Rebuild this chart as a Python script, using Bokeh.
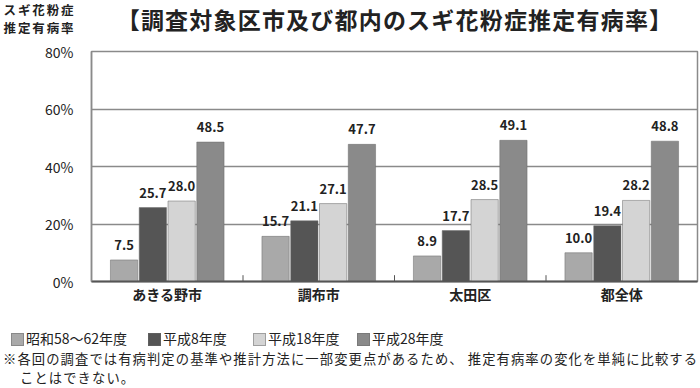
from bokeh.plotting import figure
from bokeh.layouts import column
from bokeh.models import ColumnDataSource, FactorRange, Range1d, FixedTicker, Div
from bokeh.transform import dodge
from bokeh.core.properties import value
from bokeh.embed import file_html
from bokeh.resources import INLINE

# ---- data ----
categories = ["あきる野市", "調布市", "太田区", "都全体"]
series_names = ["昭和58〜62年度", "平成8年度", "平成18年度", "平成28年度"]
s_s58 = [7.5, 15.7, 8.9, 10.0]
s_h8 = [25.7, 21.1, 17.7, 19.4]
s_h18 = [28.0, 27.1, 28.5, 28.2]
s_h28 = [48.5, 47.7, 49.1, 48.8]
yticks = [0, 20, 40, 60, 80]
ytick_labels = ["0%", "20%", "40%", "60%", "80%"]
title_text = "【調査対象区市及び都内のスギ花粉症推定有病率】"
ylabel_lines = ["スギ花粉症", "推定有病率"]
note_lines = ["※各回の調査では有病判定の基準や推計方法に一部変更点があるため、 推定有病率の変化を単純に比較する",
              "ことはできない。"]

# ---- style ----
FONT = "Noto Sans CJK JP"
TXT = "#222222"
colors = ["#a9a9a9", "#555555", "#d4d4d4", "#8a8a8a"]
offsets = [-0.285, -0.095, 0.095, 0.285]
bar_w = 0.18
W = 700
TOP_H = 40
MAIN_TOP, FRAME_H, MAIN_BOT = 11, 230, 28
MAIN_H = MAIN_TOP + FRAME_H + MAIN_BOT
BOT_H = 388 - TOP_H - MAIN_H
BL, BR = 91, 3
ymax = 80
px2data = ymax / FRAME_H
BASE = f"position:absolute;white-space:nowrap;font-family:'{FONT}';color:{TXT};"

# ---- top: y label + title ----
top_html = f'<div style="position:relative;width:{W}px;height:{TOP_H}px;">'
for k, line in enumerate(ylabel_lines):
    top_html += (f'<div style="{BASE}left:3px;top:{0.5 + 18.2 * k}px;width:73px;'
                 f'text-align:center;font-size:12.5px;line-height:18px;'
                 f'letter-spacing:1.9px;font-weight:bold;">{line}</div>')
top_html += (f'<div style="{BASE}left:95px;top:2px;width:600px;text-align:center;'
             f'font-size:23px;line-height:34px;letter-spacing:1.2px;font-weight:bold;">'
             f'{title_text}</div>')
top_html += '</div>'
top = Div(text=top_html, width=W, height=TOP_H, margin=(0, 0, 0, 0))

# ---- main chart ----
series = [s_s58, s_h8, s_h18, s_h28]
data = dict(cat=categories)
for i, s in enumerate(series):
    data[f"s{i}"] = s
    data[f"l{i}"] = [v + 15 * px2data for v in s]
    data[f"t{i}"] = [f"{v:.1f}" for v in s]
source = ColumnDataSource(data)

p = figure(width=W, height=MAIN_H, x_range=FactorRange(*categories, range_padding=0),
           y_range=Range1d(0, ymax), output_backend="svg", toolbar_location=None,
           min_border_left=BL, min_border_right=BR, min_border_top=MAIN_TOP,
           min_border_bottom=MAIN_BOT, title=None, margin=(0, 0, 0, 0))
p.background_fill_color = "white"
p.border_fill_color = "white"
p.outline_line_color = "#8a8a8a"
p.outline_line_width = 1.5

for i in range(4):
    p.vbar(x=dodge("cat", offsets[i], range=p.x_range), top=f"s{i}", width=bar_w,
           source=source, fill_color=colors[i], line_color="#6a6a6a",
           line_alpha=0.5, line_width=1)
    p.text(x=dodge("cat", offsets[i], range=p.x_range), y=f"l{i}", text=f"t{i}",
           source=source, text_align="center", text_baseline="alphabetic",
           text_font=value(FONT), text_font_style="bold", text_font_size="13px",
           text_color=TXT)

# small separators between groups
p.segment(x0=[1, 2, 3], y0=[0, 0, 0], x1=[1, 2, 3], y1=[2.2, 2.2, 2.2],
          line_color="#555555", line_width=1)

p.xgrid.grid_line_color = None
p.ygrid.grid_line_color = "#8a8a8a"
p.ygrid.grid_line_width = 1.5
p.yaxis.ticker = FixedTicker(ticks=yticks)
p.yaxis.major_label_overrides = {t: l for t, l in zip(yticks, ytick_labels)}
p.yaxis.major_tick_line_color = None
p.yaxis.minor_tick_line_color = None
p.yaxis.major_tick_out = 0
p.yaxis.major_tick_in = 0
p.yaxis.axis_line_color = "#8a8a8a"
p.yaxis.axis_line_width = 1.5
p.yaxis.major_label_standoff = 18
p.yaxis.major_label_text_font = FONT
p.yaxis.major_label_text_font_size = "14px"
p.yaxis.major_label_text_color = TXT

p.xaxis.major_tick_line_color = None
p.xaxis.major_tick_out = 0
p.xaxis.major_tick_in = 0
p.xaxis.axis_line_color = "#555555"
p.xaxis.axis_line_width = 2
p.xaxis.major_label_standoff = 2
p.xaxis.major_label_text_font = FONT
p.xaxis.major_label_text_font_style = "bold"
p.xaxis.major_label_text_font_size = "14px"
p.xaxis.major_label_text_color = TXT

# ---- bottom: legend + note ----
sq_left = [11, 148, 253, 357]
bot_html = f'<div style="position:relative;width:{W}px;height:{BOT_H}px;">'
for i in range(4):
    bot_html += (f'<div style="position:absolute;left:{sq_left[i]}px;top:24px;width:13px;'
                 f'height:13px;background:{colors[i]};box-sizing:border-box;'
                 f'border:1px solid rgba(106,106,106,0.5);"></div>')
    bot_html += (f'<div style="{BASE}left:{sq_left[i] + 15}px;top:20px;font-size:14px;'
                 f'line-height:19px;">{series_names[i]}</div>')
bot_html += (f'<div style="{BASE}left:3px;top:39.8px;font-size:13.3px;line-height:20px;'
             f'letter-spacing:1.1px;">{note_lines[0]}</div>')
bot_html += (f'<div style="{BASE}left:20px;top:59.3px;font-size:13.3px;line-height:20px;'
             f'letter-spacing:1.1px;">{note_lines[1]}</div>')
bot_html += '</div>'
bot = Div(text=bot_html, width=W, height=BOT_H, margin=(0, 0, 0, 0))

layout = column(top, p, bot, spacing=0)
open("out.html", "w").write(file_html(layout, INLINE))
